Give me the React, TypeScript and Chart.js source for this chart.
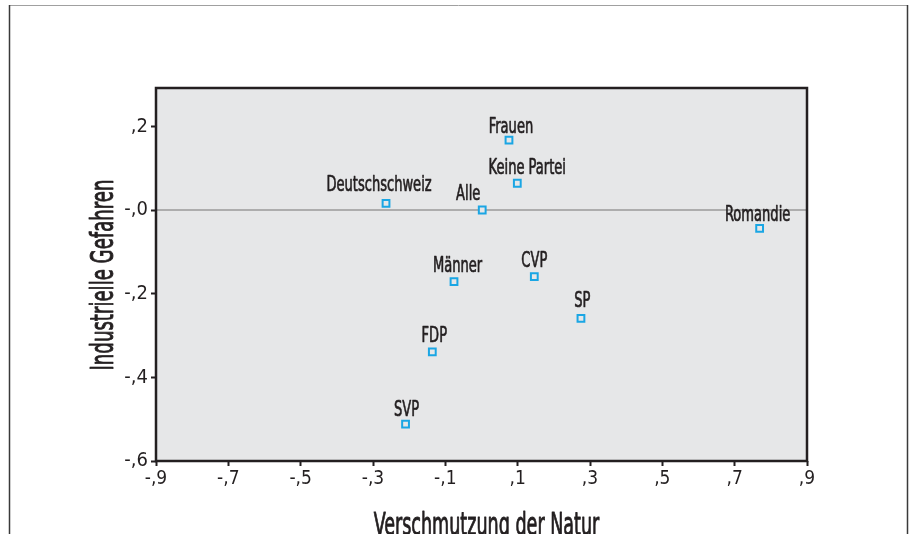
import React, { useEffect, useRef } from 'react';
import { Chart, registerables } from 'chart.js';

Chart.register(...registerables);

// ---- data ----
const categories = ['Frauen', 'Keine Partei', 'Deutschschweiz', 'Alle', 'Männer', 'CVP', 'SP', 'FDP', 'SVP', 'Romandie'];
const xValues = [0.076, 0.099, -0.264, 0.002, -0.076, 0.146, 0.275, -0.136, -0.21, 0.769];
const yValues = [0.167, 0.064, 0.016, 0.0, -0.171, -0.159, -0.259, -0.339, -0.512, -0.044];

const xTickValues = [-0.9, -0.7, -0.5, -0.3, -0.1, 0.1, 0.3, 0.5, 0.7, 0.9];
const xTickLabels = ['-,9', '-,7', '-,5', '-,3', '-,1', ',1', ',3', ',5', ',7', ',9'];
const yTickValues = [-0.6, -0.4, -0.2, 0, 0.2];
const yTickLabels = ['-,6', '-,4', '-,2', '-,0', ',2'];

const xTitle = 'Verschmutzung der Natur';
const yTitle = 'Industrielle Gefahren';

// label placement tweaks (pixels, relative to point)
const labelDx = [2, 10, -7, -14, 3.5, 0, 1.3, 2, 1, -2];
const labelDy = [-7, -9, -12.6, -10, -10, -10, -11.6, -10, -8.6, -7.6];

const FONT = "'Liberation Sans Narrow', 'DejaVu Sans Condensed', 'Roboto Condensed', sans-serif";
const INK = '#231f20';
const PLOT_BG = '#e6e7e8';
const POINT_COLOR = '#1aa6e4';

const heavyText = (ctx: CanvasRenderingContext2D, text: string, w: number) => {
  ctx.fillText(text, 0, 0);
  ctx.lineWidth = w;
  ctx.strokeStyle = INK;
  ctx.lineJoin = 'round';
  ctx.strokeText(text, 0, 0);
};

const decor = {
  id: 'decor',
  beforeDraw(chart: any) {
    const { ctx, chartArea: a } = chart;
    ctx.save();
    ctx.fillStyle = '#ffffff';
    ctx.fillRect(0, 0, chart.width, chart.height);
    // outer frame
    ctx.strokeStyle = '#a0a0a0';
    ctx.lineWidth = 1;
    ctx.beginPath();
    ctx.moveTo(9, 5.5);
    ctx.lineTo(908, 5.5);
    ctx.stroke();
    ctx.strokeStyle = '#3a3a3a';
    ctx.lineWidth = 1.5;
    ctx.beginPath();
    ctx.moveTo(9.5, 5);
    ctx.lineTo(9.5, chart.height);
    ctx.moveTo(907.5, 5);
    ctx.lineTo(907.5, chart.height);
    ctx.stroke();
    // plot background
    ctx.fillStyle = PLOT_BG;
    ctx.fillRect(a.left, a.top, a.width, a.height);
    ctx.restore();
  },
  beforeDatasetsDraw(chart: any) {
    const { ctx, chartArea: a } = chart;
    const y0 = chart.scales.y.getPixelForValue(0);
    ctx.save();
    ctx.strokeStyle = '#9a9a9a';
    ctx.lineWidth = 1.5;
    ctx.beginPath();
    ctx.moveTo(a.left, y0);
    ctx.lineTo(a.right, y0);
    ctx.stroke();
    ctx.restore();
  },
  afterDatasetsDraw(chart: any) {
    const { ctx, chartArea: a } = chart;
    const meta = chart.getDatasetMeta(0);
    ctx.save();
    ctx.fillStyle = INK;
    ctx.font = `22px ${FONT}`;
    ctx.textAlign = 'center';
    ctx.textBaseline = 'alphabetic';
    meta.data.forEach((pt: any, i: number) => {
      ctx.save();
      ctx.translate(pt.x + labelDx[i], pt.y + labelDy[i]);
      ctx.scale(0.66, 1);
      heavyText(ctx, categories[i], 0.7);
      ctx.restore();
    });
    // plot border
    ctx.strokeStyle = INK;
    ctx.lineWidth = 2.5;
    ctx.strokeRect(a.left, a.top, a.width, a.height);
    ctx.restore();
  },
  afterDraw(chart: any) {
    const { ctx, chartArea: a } = chart;
    ctx.save();
    ctx.fillStyle = INK;
    ctx.font = `32px ${FONT}`;
    ctx.textAlign = 'center';
    ctx.textBaseline = 'alphabetic';
    // x title
    ctx.save();
    ctx.translate((a.left + a.right) / 2 + 5, 535);
    ctx.scale(0.61, 1);
    heavyText(ctx, xTitle, 0.9);
    ctx.restore();
    // y title
    ctx.save();
    ctx.translate(113, (a.top + a.bottom) / 2 + 0.5);
    ctx.rotate(-Math.PI / 2);
    ctx.scale(0.63, 1);
    heavyText(ctx, yTitle, 0.9);
    ctx.restore();
    ctx.restore();
  },
};

export default function App() {
  const canvasRef = useRef<HTMLCanvasElement | null>(null);

  useEffect(() => {
    const canvas = canvasRef.current;
    if (!canvas) return;
    const chart = new Chart(canvas, {
      type: 'scatter',
      data: {
        datasets: [
          {
            label: 'Gruppen',
            data: categories.map((c, i) => ({ x: xValues[i], y: yValues[i] })),
            pointStyle: 'rect',
            pointRadius: 4.8,
            pointHoverRadius: 4.8,
            pointBorderWidth: 2,
            pointBorderColor: POINT_COLOR,
            pointBackgroundColor: PLOT_BG,
          },
        ],
      },
      options: {
        responsive: false,
        animation: false,
        devicePixelRatio: 1,
        layout: { padding: { left: 0, right: 102, top: 88, bottom: 0 } },
        plugins: {
          legend: { display: false },
          tooltip: { enabled: false },
        },
        events: [],
        scales: {
          x: {
            type: 'linear',
            position: 'bottom',
            min: -0.9,
            max: 0.9,
            afterBuildTicks: (scale: any) => {
              scale.ticks = xTickValues.map((v) => ({ value: v }));
            },
            afterFit: (scale: any) => {
              scale.height = 73;
            },
            grid: {
              display: true,
              drawOnChartArea: false,
              drawTicks: true,
              tickLength: 5,
              tickColor: INK,
              tickWidth: 2,
            },
            border: { display: false },
            ticks: {
              autoSkip: false,
              maxRotation: 0,
              padding: 2,
              color: INK,
              font: { family: FONT, size: 19 },
              callback: (_v: any, i: number) => xTickLabels[i],
            },
          },
          y: {
            type: 'linear',
            min: -0.6,
            max: 0.2917,
            afterBuildTicks: (scale: any) => {
              scale.ticks = yTickValues.map((v) => ({ value: v }));
            },
            afterFit: (scale: any) => {
              scale.width = 156;
            },
            grid: {
              display: true,
              drawOnChartArea: false,
              drawTicks: true,
              tickLength: 5,
              tickColor: INK,
              tickWidth: 2,
            },
            border: { display: false },
            ticks: {
              autoSkip: false,
              padding: 3,
              color: INK,
              font: { family: FONT, size: 20 },
              callback: (_v: any, i: number) => yTickLabels[i],
            },
          },
        },
      },
      plugins: [decor],
    });
    return () => chart.destroy();
  }, []);

  return (
    <div
      style={{
        position: 'fixed',
        left: 0,
        top: 0,
        width: 909,
        height: 534,
        overflow: 'hidden',
        background: '#fff',
      }}
    >
      <canvas ref={canvasRef} width={909} height={534} style={{ display: 'block', width: 909, height: 534 }} />
    </div>
  );
}
